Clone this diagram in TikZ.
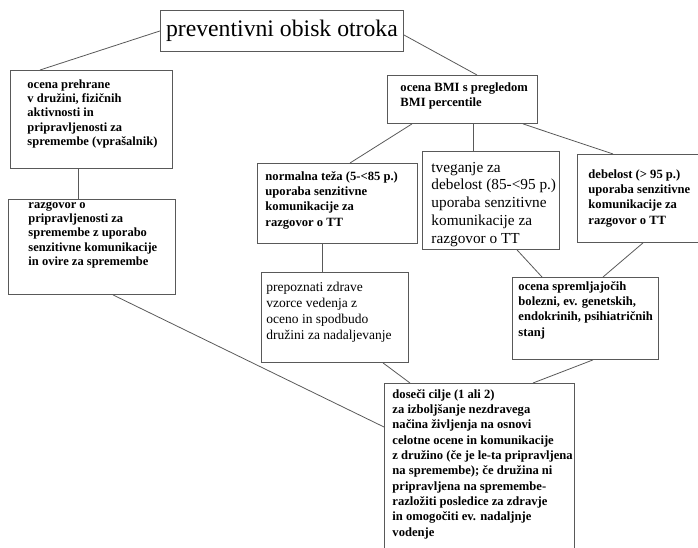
\documentclass[tikz,border=0pt]{standalone}
\usepackage{fontspec}
\setmainfont{Liberation Serif}
\newcommand{\boxtext}[3]{\parbox[c][#2][t]{#1}{\begin{tabular}[t]{@{}l@{}}#3\end{tabular}}}
\newcommand{\smallbold}{\bfseries\fontsize{12.5}{14.3}\selectfont}
\newcommand{\midbold}{\bfseries\fontsize{12.6}{15.3}\selectfont}
\tikzset{
  flowbox/.style={draw=black!65, line width=0.9pt, anchor=north west},
  link/.style={draw=black!65, line width=0.8pt}
}
\begin{document}
\begin{tikzpicture}[x=1pt,y=-1pt]
  \useasboundingbox (0,0) rectangle (698,548);
  \node[flowbox, inner sep=0pt, minimum width=243pt, minimum height=41pt, font=\fontsize{23.7}{27}\selectfont] (obisk) at (160,10) {preventivni obisk otroka};
  \node[flowbox, inner xsep=17pt, inner ysep=7.9pt, font=\smallbold] (prehrana) at (10,70) {\boxtext{128pt}{82.2pt}{ocena prehrane\\ v družini, fizičnih\\ aktivnosti in\\ pripravljenosti za\\ spremembe (vprašalnik)}};
  \node[flowbox, inner xsep=20pt, inner ysep=-1.1pt, font=\smallbold] (razgovor) at (8,199) {\boxtext{127pt}{97.2pt}{razgovor o\\ pripravljenosti za\\ spremembe z uporabo\\ senzitivne komunikacije\\ in ovire za spremembe}};
  \node[flowbox, inner xsep=13pt, inner ysep=5.2pt, font=\midbold] (bmi) at (387,75) {\boxtext{124pt}{37.6pt}{ocena BMI s pregledom\\ BMI percentile}};
  \node[flowbox, inner xsep=8pt, inner ysep=6.2pt, font=\midbold] (normalna) at (257,163) {\boxtext{144pt}{67.6pt}{normalna teža (5-<85 p.)\\ uporaba senzitivne\\ komunikacije za\\ razgovor o TT}};
  \node[flowbox, inner xsep=9pt, inner ysep=8.1pt, font=\fontsize{15.3}{17.8}\selectfont] (tveganje) at (422,151) {\boxtext{119pt}{81.8pt}{tveganje za\\ debelost (85-<95 p.)\\ uporaba senzitivne\\ komunikacije za\\ razgovor o TT}};
  \node[flowbox, inner xsep=11pt, inner ysep=13.2pt, font=\midbold] (debelost) at (577,154) {\boxtext{110pt}{61.6pt}{debelost (> 95 p.)\\ uporaba senzitivne\\ komunikacije za\\ razgovor o TT}};
  \node[flowbox, inner xsep=5pt, inner ysep=7.9pt, font=\fontsize{13.5}{16}\selectfont] (vzorci) at (261,272) {\boxtext{137pt}{74.2pt}{prepoznati zdrave\\ vzorce vedenja z\\ oceno in spodbudo\\ družini za nadaljevanje}};
  \node[flowbox, inner xsep=6pt, inner ysep=2.2pt, font=\midbold] (bolezni) at (512,277) {\boxtext{134pt}{77.6pt}{ocena spremljajočih\\ bolezni, ev. genetskih,\\ endokrinih, psihiatričnih\\ stanj}};
  \node[flowbox, inner xsep=8pt, inner ysep=4.2pt, font=\midbold] (cilji) at (384,383) {\boxtext{174pt}{171.6pt}{doseči cilje (1 ali 2)\\ za izboljšanje nezdravega\\ načina življenja na osnovi\\ celotne ocene in komunikacije\\ z družino (če je le-ta pripravljena\\ na spremembe); če družina ni\\ pripravljena na spremembe-\\ razložiti posledice za zdravje\\ in omogočiti ev. nadaljnje\\ vodenje}};
  \draw[link] (obisk.west) -- ([xshift=30pt]prehrana.north west);
  \draw[link] ([yshift=-4pt]obisk.east) -- ([xshift=90pt]bmi.north west);
  \draw[link] ([xshift=68pt]prehrana.south west) -- ([xshift=70pt]razgovor.north west);
  \draw[link] ([xshift=105pt]razgovor.south west) -- ([yshift=-44pt]cilji.north west);
  \draw[link] ([xshift=25pt]bmi.south west) -- ([xshift=93pt]normalna.north west);
  \draw[link] ([xshift=86pt]bmi.south west) -- ([xshift=51pt]tveganje.north west);
  \draw[link] ([xshift=136pt]bmi.south west) -- ([xshift=36pt]debelost.north west);
  \draw[link] ([xshift=65pt]normalna.south west) -- ([xshift=61pt]vzorci.north west);
  \draw[link] ([xshift=95pt]tveganje.south west) -- ([xshift=30pt]bolezni.north west);
  \draw[link] ([xshift=66pt]debelost.south west) -- ([xshift=91pt]bolezni.north west);
  \draw[link] ([xshift=81pt]bolezni.south west) -- ([xshift=149pt]cilji.north west);
  \draw[link] ([xshift=122pt]vzorci.south west) -- ([xshift=26pt]cilji.north west);
\end{tikzpicture}
\end{document}
